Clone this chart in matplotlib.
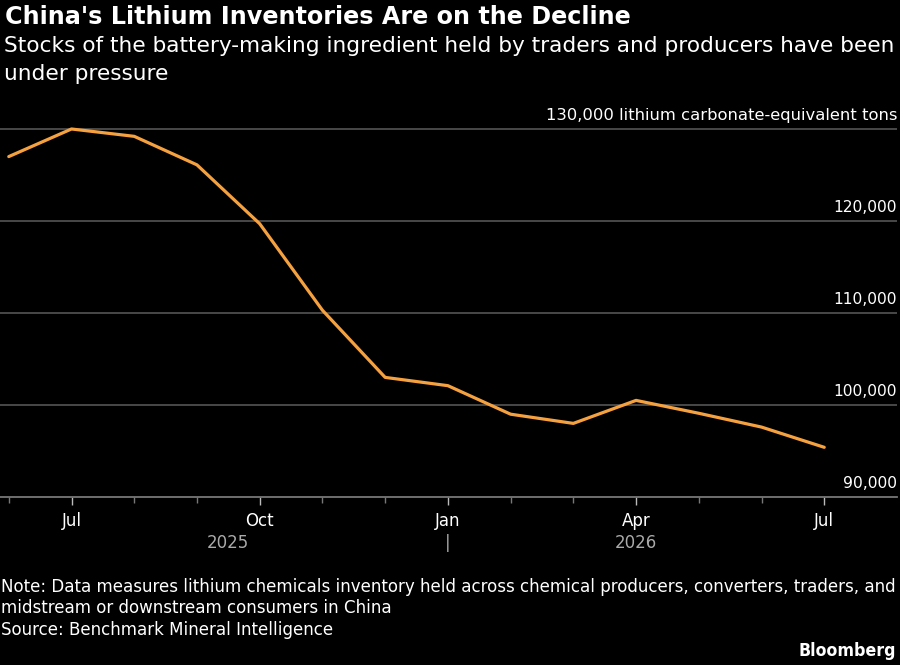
import matplotlib
matplotlib.use("Agg")
import matplotlib.pyplot as plt

# monthly lithium inventory, Jun 2025 - Jul 2026 (lithium carbonate-equivalent tons)
months = ["Jun", "Jul", "Aug", "Sep", "Oct", "Nov", "Dec",
          "Jan", "Feb", "Mar", "Apr", "May", "Jun", "Jul"]
inventory = [127000, 130000, 129200, 126100, 119700, 110300, 103000,
             102100, 99000, 98000, 100500, 99100, 97600, 95400]
y_ticks = [90000, 100000, 110000, 120000, 130000]
major_labels = {1: "Jul", 4: "Oct", 7: "Jan", 10: "Apr", 13: "Jul"}
# year labels centred on the span of months they cover
years = {3.5: "2025", 7: "|", 10: "2026"}

W, H = 900, 665
BG = "black"
ORANGE = "#f5a13f"

plt.rcParams['font.family'] = 'DejaVu Sans'
fig = plt.figure(figsize=(W / 100, H / 100), dpi=100, facecolor=BG)


def fy(y):
    return 1 - y / H


ax = fig.add_axes([0, fy(497), 897 / W, fy(100) - fy(497)], facecolor=BG)

x = list(range(len(months)))
ax.plot(x, inventory, color=ORANGE, lw=2.3, solid_capstyle='round', zorder=3)

ax.set_xlim(-0.14, 14.16)
ax.set_ylim(90000, 133150)

for v in y_ticks[1:]:
    ax.axhline(v, color="#555555", lw=1.2, zorder=1)
for s in ["top", "right", "left"]:
    ax.spines[s].set_visible(False)
ax.spines["bottom"].set_color("#777777")
ax.spines["bottom"].set_linewidth(1.3)

ax.set_yticks([])
ax.set_xticks(list(major_labels.keys()))
ax.set_xticklabels(list(major_labels.values()))
ax.set_xticks([i for i in x if i not in major_labels], minor=True)
ax.tick_params(axis='x', which='major', length=6, width=1, color="#bbbbbb",
               labelcolor="white", labelsize=12, pad=5)
ax.tick_params(axis='x', which='minor', length=4, width=1, color="#777777")

# y labels sit above gridlines at the right edge
for v in y_ticks:
    lab = f"{v:,}"
    size = 11.2
    if v == y_ticks[-1]:
        lab += " lithium carbonate-equivalent tons"
        size = 11.8
    ax.annotate(lab, xy=(1, v), xycoords=('axes fraction', 'data'),
                xytext=(0, 6.5), textcoords='offset points',
                ha='right', va='baseline', color="white", fontsize=size)

for i, t in years.items():
    ax.annotate(t, xy=(i, 90000), xycoords='data', xytext=(0, -36.5),
                textcoords='offset points', ha='center', va='baseline',
                color="#aaaaaa", fontsize=12)

fig.text(5 / W, fy(24), "China's Lithium Inventories Are on the Decline",
         color="white", fontsize=17.2, fontweight='bold', va='baseline')
fig.text(4 / W, fy(52), "Stocks of the battery-making ingredient held by traders and producers have been",
         color="white", fontsize=15.6, va='baseline')
fig.text(4 / W, fy(80), "under pressure", color="white", fontsize=15.6, va='baseline')

fig.text(1 / W, fy(592), "Note: Data measures lithium chemicals inventory held across chemical producers, converters, traders, and",
         color="white", fontsize=13.3, va='baseline', fontstretch='condensed')
fig.text(1 / W, fy(613), "midstream or downstream consumers in China",
         color="white", fontsize=13.3, va='baseline', fontstretch='condensed')
fig.text(1 / W, fy(635), "Source: Benchmark Mineral Intelligence",
         color="white", fontsize=13.3, va='baseline', fontstretch='condensed')
fig.text(896 / W, fy(656), "Bloomberg", color="white", fontsize=12.7,
         fontweight='bold', ha='right', va='baseline', fontstretch='condensed')

fig.savefig("out.png", dpi=100, facecolor=BG)
